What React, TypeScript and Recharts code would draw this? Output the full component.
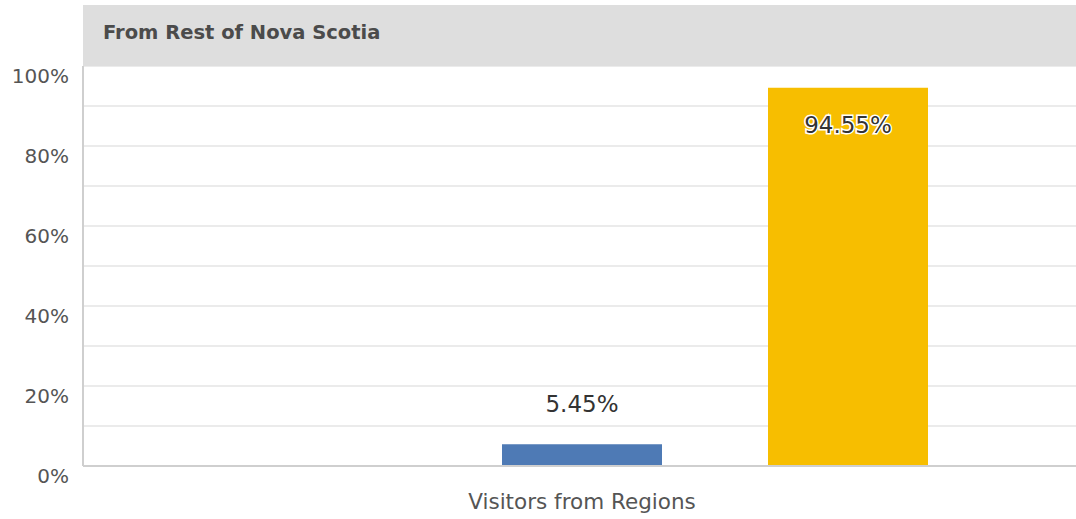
import React from "react";
import { BarChart, Bar, XAxis, YAxis, CartesianGrid, LabelList } from "recharts";

const categories = ["Visitors from Regions"];
const firstSeries = [0];
const blueSeries = [5.45];
const yellowSeries = [94.55];
const yTicks = [0, 10, 20, 30, 40, 50, 60, 70, 80, 90, 100];

const data = categories.map((name, i) => ({
  name,
  first: firstSeries[i],
  blue: blueSeries[i],
  yellow: yellowSeries[i],
}));

const FONT = "'DejaVu Sans', 'Open Sans', sans-serif";

// only every other gridline gets a label
const YTick = (props: any) => {
  const { x, y, payload } = props;
  if (payload.value % 20 !== 0) return null;
  return (
    <text x={x - 6} y={y + 17} textAnchor="end" fill="#555" fontSize={20} fontFamily={FONT}>
      {`${payload.value}%`}
    </text>
  );
};

const pct = (v: any) => (v ? `${Number(v).toFixed(2)}%` : "");

export default function App() {
  return (
    <div style={{ position: "absolute", left: 0, top: 0, width: 1076, height: 519, background: "#fff" }}>
      <div
        style={{
          position: "absolute",
          left: 83,
          top: 5,
          width: 993,
          height: 61,
          background: "#dedede",
          boxSizing: "border-box",
          paddingLeft: 20,
          lineHeight: "56px",
          fontFamily: FONT,
          fontWeight: 700,
          fontSize: 19.5,
          color: "#4b4b4b",
          zIndex: 1,
        }}
      >
        From Rest of Nova Scotia
      </div>
      <BarChart
        width={1076}
        height={519}
        data={data}
        margin={{ top: 66, right: 0, bottom: 0, left: 0 }}
        barSize={160}
        barGap={106}
      >
        <CartesianGrid vertical={false} stroke="#ebebeb" strokeWidth={2} />
        <XAxis
          dataKey="name"
          height={53}
          padding={{ left: 5, right: 0 }}
          axisLine={{ stroke: "#cfcfcf", strokeWidth: 2 }}
          tickLine={false}
          tick={{ fill: "#555", fontSize: 21.5, fontFamily: FONT }}
          tickMargin={22}
        />
        <YAxis
          width={83}
          domain={[0, 100]}
          ticks={yTicks}
          interval={0}
          axisLine={{ stroke: "#cfcfcf", strokeWidth: 2 }}
          tickLine={false}
          tick={<YTick />}
        />
        <Bar dataKey="first" fill="#4e7ab5" isAnimationActive={false} />
        <Bar dataKey="blue" fill="#4e7ab5" isAnimationActive={false}>
          <LabelList
            dataKey="blue"
            position="top"
            offset={32}
            formatter={pct}
            fill="#333"
            fontSize={23}
            fontFamily={FONT}
          />
        </Bar>
        <Bar dataKey="yellow" fill="#f7be00" isAnimationActive={false}>
          <LabelList
            dataKey="yellow"
            position="insideTop"
            offset={29}
            formatter={pct}
            fill="#333"
            stroke="#fff"
            strokeWidth={3}
            paintOrder="stroke"
            fontSize={23}
            fontFamily={FONT}
          />
        </Bar>
      </BarChart>
    </div>
  );
}
